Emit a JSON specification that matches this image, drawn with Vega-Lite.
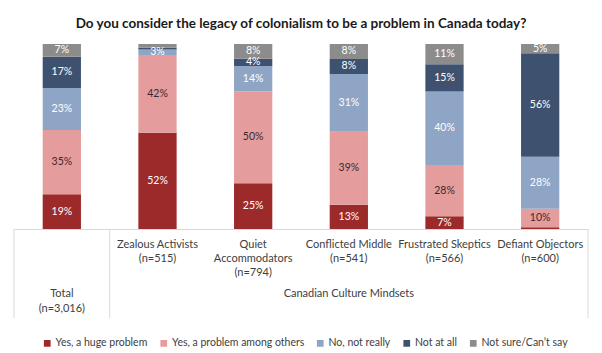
{
  "$schema": "https://vega.github.io/schema/vega-lite/v6.json",
  "width": 574,
  "height": 185,
  "autosize": {"type": "none"},
  "padding": {"left": 14, "top": 44, "right": 14, "bottom": 124},
  "background": "#ffffff",
  "title": {
    "text": "Do you consider the legacy of colonialism to be a problem in Canada today?",
    "font": "Lato",
    "fontSize": 13.5,
    "fontWeight": "bold",
    "color": "#1a1a1a",
    "anchor": "middle",
    "offset": 13
  },
  "config": {"view": {"stroke": null}, "font": "Lato"},
  "data": {
    "values": [
      {"category": "Total", "response": "Yes, a huge problem", "order": 1, "value": 19},
      {"category": "Total", "response": "Yes, a problem among others", "order": 2, "value": 35},
      {"category": "Total", "response": "No, not really", "order": 3, "value": 23},
      {"category": "Total", "response": "Not at all", "order": 4, "value": 17},
      {"category": "Total", "response": "Not sure/Can’t say", "order": 5, "value": 7},
      {"category": "Zealous Activists", "response": "Yes, a huge problem", "order": 1, "value": 52},
      {"category": "Zealous Activists", "response": "Yes, a problem among others", "order": 2, "value": 42},
      {"category": "Zealous Activists", "response": "No, not really", "order": 3, "value": 3},
      {"category": "Zealous Activists", "response": "Not at all", "order": 4, "value": 1},
      {"category": "Zealous Activists", "response": "Not sure/Can’t say", "order": 5, "value": 2},
      {"category": "Quiet Accommodators", "response": "Yes, a huge problem", "order": 1, "value": 25},
      {"category": "Quiet Accommodators", "response": "Yes, a problem among others", "order": 2, "value": 50},
      {"category": "Quiet Accommodators", "response": "No, not really", "order": 3, "value": 14},
      {"category": "Quiet Accommodators", "response": "Not at all", "order": 4, "value": 4},
      {"category": "Quiet Accommodators", "response": "Not sure/Can’t say", "order": 5, "value": 8},
      {"category": "Conflicted Middle", "response": "Yes, a huge problem", "order": 1, "value": 13},
      {"category": "Conflicted Middle", "response": "Yes, a problem among others", "order": 2, "value": 39},
      {"category": "Conflicted Middle", "response": "No, not really", "order": 3, "value": 31},
      {"category": "Conflicted Middle", "response": "Not at all", "order": 4, "value": 8},
      {"category": "Conflicted Middle", "response": "Not sure/Can’t say", "order": 5, "value": 8},
      {"category": "Frustrated Skeptics", "response": "Yes, a huge problem", "order": 1, "value": 7},
      {"category": "Frustrated Skeptics", "response": "Yes, a problem among others", "order": 2, "value": 28},
      {"category": "Frustrated Skeptics", "response": "No, not really", "order": 3, "value": 40},
      {"category": "Frustrated Skeptics", "response": "Not at all", "order": 4, "value": 15},
      {"category": "Frustrated Skeptics", "response": "Not sure/Can’t say", "order": 5, "value": 11},
      {"category": "Defiant Objectors", "response": "Yes, a huge problem", "order": 1, "value": 1},
      {"category": "Defiant Objectors", "response": "Yes, a problem among others", "order": 2, "value": 10},
      {"category": "Defiant Objectors", "response": "No, not really", "order": 3, "value": 28},
      {"category": "Defiant Objectors", "response": "Not at all", "order": 4, "value": 56},
      {"category": "Defiant Objectors", "response": "Not sure/Can’t say", "order": 5, "value": 5}
    ]
  },
  "transform": [
    {"stack": "value", "groupby": ["category"], "sort": [{"field": "order", "order": "ascending"}], "offset": "normalize", "as": ["v0", "v1"]}
  ],
  "layer": [
    {
      "mark": {"type": "bar"},
      "encoding": {
        "x": {
          "field": "category",
          "type": "nominal",
          "sort": ["Total", "Zealous Activists", "Quiet Accommodators", "Conflicted Middle", "Frustrated Skeptics", "Defiant Objectors"],
          "scale": {"paddingInner": 0.6, "paddingOuter": 0.3},
          "axis": {
            "title": null,
            "domainColor": "#D9D9D9",
            "ticks": false,
            "labelAngle": 0,
            "labelFont": "Lato",
            "labelFontSize": 11,
            "labelColor": "#404040",
            "labelPadding": 9,
            "labelLineHeight": 14,
            "labelBaseline": "top",
            "labelLimit": 200,
            "labelExpr": "datum.value == 'Total' ? '' : datum.value == 'Zealous Activists' ? ['Zealous Activists','(n=515)'] : datum.value == 'Quiet Accommodators' ? ['Quiet','Accommodators','(n=794)'] : datum.value == 'Conflicted Middle' ? ['Conflicted Middle','(n=541)'] : datum.value == 'Frustrated Skeptics' ? ['Frustrated Skeptics','(n=566)'] : ['Defiant Objectors','(n=600)']"
          }
        },
        "y": {"field": "v0", "type": "quantitative", "scale": {"domain": [0, 1]}, "axis": null},
        "y2": {"field": "v1"},
        "color": {
          "field": "response",
          "type": "nominal",
          "scale": {
            "domain": ["Yes, a huge problem", "Yes, a problem among others", "No, not really", "Not at all", "Not sure/Can’t say"],
            "range": ["#9C2A2A", "#E49C9C", "#8FA5C5", "#3E5270", "#8C8C8C"]
          },
          "legend": {
            "title": null,
            "orient": "none",
            "legendX": 28,
            "legendY": 294,
            "direction": "horizontal",
            "symbolType": "square",
            "symbolSize": 45,
            "symbolStrokeWidth": 0,
            "labelFont": "Lato",
            "labelFontSize": 10.5,
            "labelColor": "#404040",
            "labelOffset": 3,
            "columnPadding": 10.5
          }
        }
      }
    },
    {
      "transform": [
        {"filter": "datum.value >= 3"},
        {"calculate": "(datum.v0 + datum.v1) / 2", "as": "mid"},
        {"calculate": "datum.value + '%'", "as": "label"}
      ],
      "mark": {"type": "text", "fontSize": 10.5, "font": "Lato", "baseline": "middle"},
      "encoding": {
        "x": {"field": "category", "type": "nominal", "sort": ["Total", "Zealous Activists", "Quiet Accommodators", "Conflicted Middle", "Frustrated Skeptics", "Defiant Objectors"]},
        "y": {"field": "mid", "type": "quantitative"},
        "text": {"field": "label"},
        "color": {"condition": {"test": "datum.response == 'Yes, a problem among others'", "value": "#3b2a2a"}, "value": "#ffffff"}
      }
    },
    {
      "transform": [{"filter": "datum.order == 1 && (datum.category == 'Total' || datum.category == 'Zealous Activists')"}],
      "mark": {"type": "rule", "color": "#D9D9D9", "clip": false},
      "encoding": {
        "x": {"field": "category", "type": "nominal", "sort": ["Total", "Zealous Activists", "Quiet Accommodators", "Conflicted Middle", "Frustrated Skeptics", "Defiant Objectors"], "bandPosition": -0.75},
        "y": {"datum": 0, "type": "quantitative"},
        "y2": {"datum": -0.481}
      }
    },
    {
      "transform": [{"filter": "datum.order == 1 && datum.category == 'Defiant Objectors'"}],
      "mark": {"type": "rule", "color": "#D9D9D9", "clip": false},
      "encoding": {
        "x": {"field": "category", "type": "nominal", "sort": ["Total", "Zealous Activists", "Quiet Accommodators", "Conflicted Middle", "Frustrated Skeptics", "Defiant Objectors"], "bandPosition": 1.75},
        "y": {"datum": 0, "type": "quantitative"},
        "y2": {"datum": -0.481}
      }
    },
    {
      "transform": [{"filter": "datum.order == 1 && datum.category == 'Total'"}],
      "mark": {"type": "text", "baseline": "top", "fontSize": 11, "font": "Lato", "lineHeight": 15, "color": "#404040"},
      "encoding": {
        "x": {"field": "category", "type": "nominal", "sort": ["Total", "Zealous Activists", "Quiet Accommodators", "Conflicted Middle", "Frustrated Skeptics", "Defiant Objectors"]},
        "y": {"datum": -0.319, "type": "quantitative"},
        "text": {"value": ["Total", "(n=3,016)"]}
      }
    },
    {
      "transform": [{"filter": "datum.order == 1 && datum.category == 'Conflicted Middle'"}],
      "mark": {"type": "text", "baseline": "top", "fontSize": 11, "font": "Lato", "color": "#404040"},
      "encoding": {
        "x": {"field": "category", "type": "nominal", "sort": ["Total", "Zealous Activists", "Quiet Accommodators", "Conflicted Middle", "Frustrated Skeptics", "Defiant Objectors"]},
        "y": {"datum": -0.319, "type": "quantitative"},
        "text": {"value": "Canadian Culture Mindsets"}
      }
    }
  ]
}
